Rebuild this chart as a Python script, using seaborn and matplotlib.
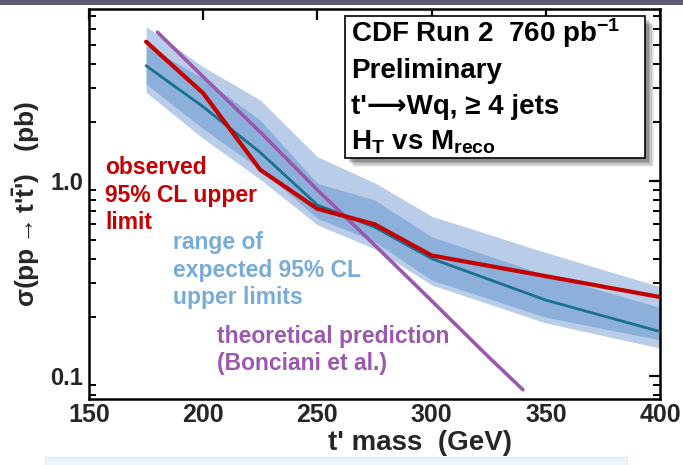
import matplotlib
matplotlib.use("Agg")
import matplotlib.pyplot as plt
import matplotlib.ticker as mticker
from matplotlib.patches import Rectangle
import seaborn as sns
import pandas as pd
import numpy as np

# ---------------- data ----------------
mass = [175, 200, 225, 250, 275, 300, 350, 400]
observed = [5.18, 2.82, 1.14, 0.72, 0.60, 0.415, 0.325, 0.254]
expected = [3.90, 2.40, 1.40, 0.753, 0.58, 0.40, 0.245, 0.169]
band1_lo = [3.14, 1.85, 1.15, 0.644, 0.49, 0.31, 0.20, 0.153]
band1_hi = [4.94, 3.36, 2.05, 0.973, 0.80, 0.518, 0.33, 0.225]
band2_lo = [2.85, 1.65, 1.02, 0.595, 0.45, 0.293, 0.187, 0.139]
band2_hi = [6.20, 3.85, 2.60, 1.33, 0.98, 0.66, 0.43, 0.287]

theory_mass = [180, 200, 225, 250, 275, 300, 325, 340]
theory = [5.79, 3.42, 1.78, 0.90, 0.47, 0.243, 0.125, 0.085]

xticks = [150, 200, 250, 300, 350, 400]
yticks = [0.1, 1.0]
ytick_labels = ["0.1", "1.0"]

# ---------------- style ----------------
sns.set_theme(style="white")
plt.rcParams["font.family"] = ["Liberation Sans", "DejaVu Sans"]
plt.rcParams["font.weight"] = "bold"
plt.rcParams["mathtext.fontset"] = "custom"
plt.rcParams["mathtext.rm"] = "Liberation Sans:bold"
plt.rcParams["mathtext.bf"] = "Liberation Sans:bold"
plt.rcParams["mathtext.it"] = "Liberation Sans:bold"

RED = "#c40000"
TEAL = "#19708f"
PURPLE = "#9b59ad"
BAND_OUT = "#b9cde9"
BAND_IN = "#8db0db"
BLUE_TXT = "#78acd8"

W, H = 683, 465
fig = plt.figure(figsize=(W / 100, H / 100), dpi=100)
fig.patch.set_facecolor("white")

def fx(px):
    return px / W

def fy(py):
    return 1 - py / H

ax = fig.add_axes([fx(89), fy(399), fx(660) - fx(89), fy(9) - fy(399)])

# bands
ax.fill_between(mass, band2_lo, band2_hi, color=BAND_OUT, lw=0, zorder=1)
ax.fill_between(mass, band1_lo, band1_hi, color=BAND_IN, lw=0, zorder=2)

df_exp = pd.DataFrame({"mass": mass, "xs": expected})
df_obs = pd.DataFrame({"mass": mass, "xs": observed})
df_th = pd.DataFrame({"mass": theory_mass, "xs": theory})

sns.lineplot(data=df_exp, x="mass", y="xs", color=TEAL, lw=2.0, ax=ax, zorder=3)
sns.lineplot(data=df_th, x="mass", y="xs", color=PURPLE, lw=2.6, ax=ax, zorder=4)
sns.lineplot(data=df_obs, x="mass", y="xs", color=RED, lw=3.0, ax=ax, zorder=5)

ax.set_yscale("log")
ax.set_xlim(150, 400)
ax.set_ylim(0.0762, 7.62)

ax.xaxis.set_major_locator(mticker.FixedLocator(xticks))
ax.xaxis.set_major_formatter(mticker.FixedFormatter([str(v) for v in xticks]))
ax.yaxis.set_major_locator(mticker.FixedLocator(yticks))
ax.yaxis.set_major_formatter(mticker.FixedFormatter(ytick_labels))
ax.yaxis.set_minor_locator(mticker.LogLocator(base=10, subs=np.arange(2, 10)))
ax.yaxis.set_minor_formatter(mticker.NullFormatter())
ax.xaxis.set_minor_locator(mticker.NullLocator())

ax.tick_params(axis="both", which="major", direction="in", length=8, width=1.6,
               top=True, right=True, color="black")
ax.tick_params(axis="x", which="major", labelsize=18, pad=3)
ax.tick_params(axis="y", which="major", labelsize=17, pad=4)
ax.tick_params(axis="y", which="minor", direction="in", length=5, width=1.4,
               left=True, right=True, color="black")
for lab in ax.get_xticklabels() + ax.get_yticklabels():
    lab.set_fontweight("bold")
for s in ax.spines.values():
    s.set_linewidth(1.8)
    s.set_color("black")

ax.set_xlabel("t' mass  (GeV)", fontsize=20, fontweight="bold")
ax.xaxis.set_label_coords(0.58, -0.080)
ax.set_ylabel(r"σ(pp$\rightarrow$t'$\mathbf{\bar{t}}$')   (pb)", fontsize=19, fontweight="bold")
ax.yaxis.set_label_coords(-0.082, 0.5)

# annotations
ann_kw = dict(transform=fig.transFigure, fontsize=16.5, fontweight="bold",
              va="center", ha="left", linespacing=1.27, zorder=6)
ax.text(fx(105), fy(195), "observed\n95% CL upper\nlimit", color=RED, **ann_kw)
ax.text(fx(173), fy(270), "range of\nexpected 95% CL\nupper limits", color=BLUE_TXT, **ann_kw)
ax.text(fx(217), fy(350), "theoretical prediction\n(Bonciani et al.)", color=PURPLE, **ann_kw)

# info box with soft shadow
bx0, by0, bx1, by1 = 345, 16, 645, 158
for i, a in enumerate([0.06, 0.08, 0.10, 0.13, 0.16]):
    off = 9 - i * 1.2
    fig.patches.append(Rectangle((fx(bx0 + off), fy(by1 + off)), fx(bx1 - bx0), fy(by0) - fy(by1),
                                 transform=fig.transFigure, facecolor="black", alpha=a,
                                 edgecolor="none", zorder=7))
fig.patches.append(Rectangle((fx(bx0), fy(by1)), fx(bx1 - bx0), fy(by0) - fy(by1),
                             transform=fig.transFigure, facecolor="white",
                             edgecolor="black", lw=1.2, zorder=8))
lines = [r"CDF Run 2  760 pb$^{\mathbf{-1}}$", "Preliminary", "t'⟶Wq, ≥ 4 jets",
         r"H$_{\mathbf{T}}$ vs M$_{\mathbf{reco}}$"]
ys = [33, 71, 107, 142]
sizes = [20, 20, 20, 20]
for t, yy, sz in zip(lines, ys, sizes):
    fig.text(fx(351), fy(yy), t, fontsize=sz, fontweight="bold", color="black",
             va="center", ha="left", zorder=9)

# decorative strips of the slide
fig.patches.append(Rectangle((0, fy(5)), 1, fy(0) - fy(5), transform=fig.transFigure,
                             facecolor="#5d5972", edgecolor="none", zorder=10))
fig.patches.append(Rectangle((fx(45), 0), fx(627) - fx(45), fy(457), transform=fig.transFigure,
                             facecolor="#eef6fc", edgecolor="#dbe9f5", lw=0.8, zorder=0))

fig.savefig("out.png", dpi=100)
